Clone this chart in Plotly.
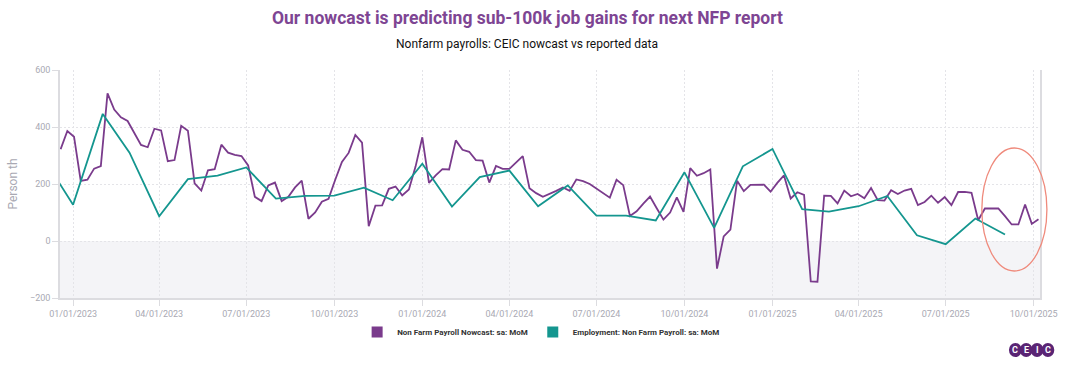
import pandas as pd
import plotly.graph_objects as go

# ---------------- data ----------------
nowcast_2022 = [322, 386]
nowcast_2023 = [366, 211, 215, 254, 263, 518, 461, 434, 421, 377, 337, 329, 394,
                388, 280, 284, 404, 387, 202, 177, 248, 252, 338, 310, 302, 298,
                265, 155, 140, 195, 205, 140, 155, 188, 212, 78, 100, 138, 148,
                215, 277, 309, 372, 345, 52, 124, 125, 183, 191, 160, 181, 262]
nowcast_2024 = [364, 204, 230, 252, 251, 353, 320, 313, 284, 282, 205, 263, 253,
                253, 277, 298, 185, 168, 155, 165, 176, 188, 176, 216, 210, 200,
                185, 168, 152, 215, 196, 88, 104, 131, 156, 115, 75, 100, 153,
                102, 256, 229, 238, 251, -97, 16, 40, 211, 175, 197, 198, 198, 173]
nowcast_2025 = [204, 230, 149, 171, 162, -142, -143, 159, 158, 132, 177, 157, 165,
                150, 186, 143, 142, 178, 165, 177, 183, 126, 137, 159, 134, 154,
                126, 172, 172, 169, 73, 114, 114, 114, 87, 58, 58, 128, 60, 76]
nowcast_start = "2022-12-19"   # weekly series

reported = [292, 127, 446, 310, 87, 217, 229, 258, 149, 158, 159, 187, 143,
            271, 121, 224, 247, 122, 195, 89, 89, 72, 241, 46, 262,
            323, 112, 103, 122, 158, 20, -11, 79, 23]
reported_start = "2022-12-01"  # monthly series

series_names = ["Non Farm Payroll Nowcast: sa: MoM", "Employment: Non Farm Payroll: sa: MoM"]
title_text = "Our nowcast is predicting sub-100k job gains for next NFP report"
subtitle_text = "Nonfarm payrolls: CEIC nowcast vs reported data"
y_ticks = [-200, 0, 200, 400, 600]

nowcast = nowcast_2022 + nowcast_2023 + nowcast_2024 + nowcast_2025
nowcast_dates = pd.date_range(nowcast_start, periods=len(nowcast), freq="7D")
reported_dates = pd.date_range(reported_start, periods=len(reported), freq="MS")

PURPLE = "#7a3b8c"
TEAL = "#14968f"
GREY = "#a9a9b3"

W, H = 1070, 365
L, R, T, B = 54, 22, 70, 67
pw, ph = W - L - R, H - T - B


def px(x):
    return (x - L) / pw


def py(y):
    return (H - B - y) / ph


fig = go.Figure()
fig.add_trace(go.Scatter(x=nowcast_dates, y=nowcast, mode="lines",
                         line=dict(color=PURPLE, width=1.8), showlegend=False,
                         name=series_names[0]))
fig.add_trace(go.Scatter(x=reported_dates, y=reported, mode="lines",
                         line=dict(color=TEAL, width=1.8), showlegend=False,
                         name=series_names[1]))
# legend swatches
for nm, col in zip(series_names, [PURPLE, TEAL]):
    fig.add_trace(go.Scatter(x=[None], y=[None], mode="markers", name=nm,
                             marker=dict(symbol="square", size=11, color=col)))

shapes = [
    dict(type="rect", xref="paper", yref="y", x0=0, x1=1, y0=-200, y1=0,
         fillcolor="#f4f4f7", line=dict(width=0), layer="below"),
    dict(type="circle", xref="paper", yref="paper",
         x0=px(989), x1=px(1055), y0=py(271), y1=py(148),
         line=dict(color="#ef8a7c", width=1.3), fillcolor="rgba(0,0,0,0)"),
]
annotations = [
    dict(text=title_text, xref="paper", yref="paper", x=px(528), y=py(18),
         xanchor="center", yanchor="middle", showarrow=False,
         font=dict(family="Roboto, sans-serif", size=17.5,
                   color="#7e4593", weight="bold")),
    dict(text=subtitle_text, xref="paper", yref="paper", x=px(528), y=py(44),
         xanchor="center", yanchor="middle", showarrow=False,
         font=dict(family="Roboto, sans-serif", size=12, color="#111111")),
]
# CEIC logo
for i, ch in enumerate("CEIC"):
    cx = 1023 + i * 11
    shapes.append(dict(type="circle", xref="paper", yref="paper",
                       x0=px(cx - 6.5), x1=px(cx + 6.5), y0=py(357), y1=py(343),
                       fillcolor="#5a2474", line=dict(width=0)))
    annotations.append(dict(text=ch, xref="paper", yref="paper", x=px(cx), y=py(350),
                            xanchor="center", yanchor="middle", showarrow=False,
                            font=dict(family="Roboto", size=9, color="white",
                                      weight="bold")))

fig.update_layout(
    width=W, height=H,
    margin=dict(l=L, r=R, t=T, b=B),
    paper_bgcolor="white", plot_bgcolor="white",
    font=dict(family="Roboto, sans-serif", color=GREY),
    shapes=shapes, annotations=annotations,
    legend=dict(orientation="h", x=px(542), y=py(332), xanchor="center",
                yanchor="middle", font=dict(family="Roboto", size=8,
                                            color="#333333", weight="bold"),
                itemwidth=30, tracegroupgap=0),
    xaxis=dict(range=["2022-12-18 08:00", "2025-10-07 14:00"], type="date",
               tick0="2023-01-01", dtick="M3", tickformat="%m/%d/%Y",
               showgrid=True, gridcolor="#e4e4e8", griddash="2px,2px", gridwidth=1,
               showline=True, linecolor="#dcdce0", linewidth=1.5,
               ticks="outside", ticklen=6, tickcolor="#dcdce0",
               tickfont=dict(size=9, color=GREY), zeroline=False),
    yaxis=dict(range=[-200, 600], tickvals=y_ticks,
               showgrid=True, gridcolor="#e4e4e8", griddash="2px,2px", gridwidth=1,
               showline=True, linecolor="#dcdce0", linewidth=1.5, mirror=True,
               ticks="outside", ticklen=6, tickcolor="#dcdce0",
               tickfont=dict(size=9, color=GREY), zeroline=False,
               title=dict(text="Person th", font=dict(size=12, color=GREY),
                          standoff=10)),
)

fig.write_html("out.html", config={"displayModeBar": False},
               post_script="document.body.style.margin='0';document.body.style.padding='0';")
